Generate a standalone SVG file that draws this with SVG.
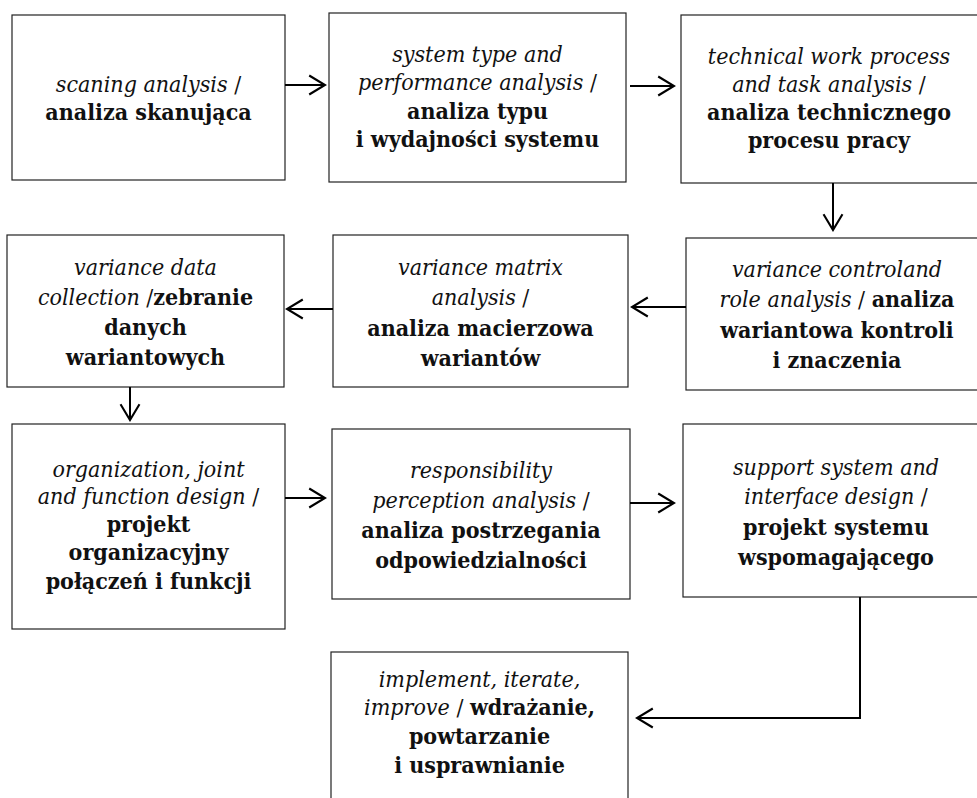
<svg xmlns="http://www.w3.org/2000/svg" width="977" height="798" viewBox="0 0 977 798">
<defs>
<style>
.box{fill:#fff;stroke:#222;stroke-width:1.2}
.t{font-family:"DejaVu Serif Condensed","DejaVu Serif",serif;font-stretch:condensed;font-size:23px;fill:#111;text-anchor:middle}
.i{font-style:italic;font-weight:normal}
.b{font-weight:bold}
.s{font-style:normal;font-weight:normal}
.c{fill:none;stroke:#000;stroke-width:2}
</style>
<marker id="ah" markerUnits="userSpaceOnUse" markerWidth="20" markerHeight="24" viewBox="-17 -11 19 22" refX="0" refY="0" orient="auto">
<path d="M-15,-9 L0,0 L-15,9" fill="none" stroke="#000" stroke-width="2"/>
</marker>
</defs>
<rect width="977" height="798" fill="#fff"/>

<g id="n1">
<rect class="box" x="12" y="15" width="273" height="165"/>
<text class="t" x="148.5" y="92"><tspan class="i">scaning analysis </tspan><tspan class="s">/</tspan></text>
<text class="t b" x="148.5" y="120">analiza skanująca</text>
</g>

<g id="n2">
<rect class="box" x="329" y="13" width="297" height="169"/>
<text class="t" x="477.5" y="62"><tspan class="i">system type and</tspan></text>
<text class="t" x="477.5" y="90"><tspan class="i">performance analysis </tspan><tspan class="s">/</tspan></text>
<text class="t b" x="477.5" y="119">analiza typu</text>
<text class="t b" x="477.5" y="147">i wydajności systemu</text>
</g>

<g id="n3">
<rect class="box" x="681" y="15" width="300" height="168"/>
<text class="t" x="829" y="64"><tspan class="i">technical work process</tspan></text>
<text class="t" x="829" y="92"><tspan class="i">and task analysis </tspan><tspan class="s">/</tspan></text>
<text class="t b" x="829" y="120">analiza technicznego</text>
<text class="t b" x="829" y="148">procesu pracy</text>
</g>

<g id="n4">
<rect class="box" x="686" y="238" width="305" height="152"/>
<text class="t" x="837" y="277"><tspan class="i">variance controland</tspan></text>
<text class="t" x="837" y="307"><tspan class="i">role analysis </tspan><tspan class="s">/ </tspan><tspan class="b">analiza</tspan></text>
<text class="t b" x="837" y="338">wariantowa kontroli</text>
<text class="t b" x="837" y="368">i znaczenia</text>
</g>

<g id="n5">
<rect class="box" x="333" y="235" width="295" height="152"/>
<text class="t" x="480.5" y="275"><tspan class="i">variance matrix</tspan></text>
<text class="t" x="480.5" y="305"><tspan class="i">analysis </tspan><tspan class="s">/</tspan></text>
<text class="t b" x="480.5" y="336">analiza macierzowa</text>
<text class="t b" x="480.5" y="366">wariantów</text>
</g>

<g id="n6">
<rect class="box" x="7" y="235" width="277" height="152"/>
<text class="t" x="145.5" y="275"><tspan class="i">variance data</tspan></text>
<text class="t" x="145.5" y="305"><tspan class="i">collection </tspan><tspan class="s">/</tspan><tspan class="b">zebranie</tspan></text>
<text class="t b" x="145.5" y="335">danych</text>
<text class="t b" x="145.5" y="365">wariantowych</text>
</g>

<g id="n7">
<rect class="box" x="12" y="424" width="273" height="205"/>
<text class="t" x="148.5" y="477"><tspan class="i">organization, joint</tspan></text>
<text class="t" x="148.5" y="504"><tspan class="i">and function design </tspan><tspan class="s">/</tspan></text>
<text class="t b" x="148.5" y="532">projekt</text>
<text class="t b" x="148.5" y="560">organizacyjny</text>
<text class="t b" x="148.5" y="589">połączeń i funkcji</text>
</g>

<g id="n8">
<rect class="box" x="332" y="429" width="298" height="170"/>
<text class="t" x="481" y="478"><tspan class="i">responsibility</tspan></text>
<text class="t" x="481" y="508"><tspan class="i">perception analysis </tspan><tspan class="s">/</tspan></text>
<text class="t b" x="481" y="538">analiza postrzegania</text>
<text class="t b" x="481" y="568">odpowiedzialności</text>
</g>

<g id="n9">
<rect class="box" x="683" y="424" width="306" height="173"/>
<text class="t" x="836" y="475"><tspan class="i">support system and</tspan></text>
<text class="t" x="836" y="504"><tspan class="i">interface design </tspan><tspan class="s">/</tspan></text>
<text class="t b" x="836" y="535">projekt systemu</text>
<text class="t b" x="836" y="565">wspomagającego</text>
</g>

<g id="n10">
<rect class="box" x="331" y="652" width="297" height="170"/>
<text class="t" x="479.5" y="687"><tspan class="i">implement, iterate,</tspan></text>
<text class="t" x="479.5" y="715"><tspan class="i">improve </tspan><tspan class="s">/ </tspan><tspan class="b">wdrażanie,</tspan></text>
<text class="t b" x="479.5" y="744">powtarzanie</text>
<text class="t b" x="479.5" y="773">i usprawnianie</text>
</g>

<g id="connectors">
<line class="c" x1="285" y1="85" x2="325" y2="85" marker-end="url(#ah)"/>
<line class="c" x1="630" y1="86" x2="674" y2="86" marker-end="url(#ah)"/>
<line class="c" x1="833" y1="183" x2="833" y2="230" marker-end="url(#ah)"/>
<line class="c" x1="686" y1="307" x2="632" y2="307" marker-end="url(#ah)"/>
<line class="c" x1="333" y1="309" x2="287" y2="309" marker-end="url(#ah)"/>
<line class="c" x1="130" y1="387" x2="130" y2="420" marker-end="url(#ah)"/>
<line class="c" x1="285" y1="498" x2="325" y2="498" marker-end="url(#ah)"/>
<line class="c" x1="630" y1="503" x2="674" y2="503" marker-end="url(#ah)"/>
<polyline class="c" points="860,597 860,718 637,718" marker-end="url(#ah)"/>
</g>
</svg>
